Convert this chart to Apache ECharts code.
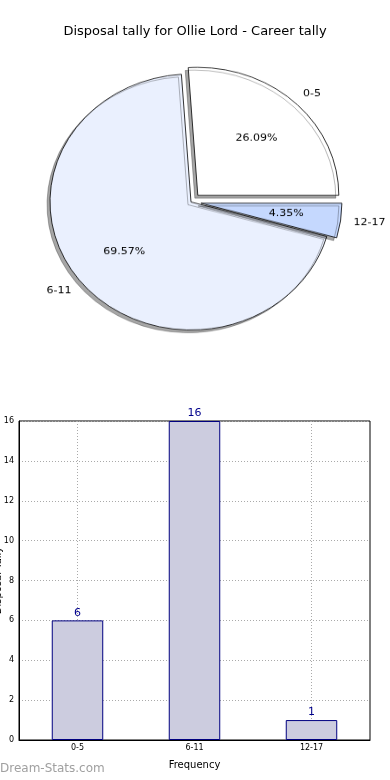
<!DOCTYPE html>
<html>
<head>
<meta charset="utf-8">
<script src="https://cdn.jsdelivr.net/npm/echarts@6/dist/echarts.min.js"></script>
<style>
  html, body { margin: 0; padding: 0; background: #fff; }
  #bar { position: absolute; left: 0; top: 0; width: 390px; height: 780px; }
  #pie { position: absolute; left: 0; top: 0; width: 390px; height: 420px;
         transform: scaleY(0.9078); transform-origin: 0 0; }
</style>
</head>
<body>
<div id="bar"></div>
<div id="pie"></div>
<script>
// ---- data ----
const titleText = 'Disposal tally for Ollie Lord - Career tally';
const categories = ['0-5', '6-11', '12-17'];
const values = [6, 16, 1];
const pieColors = ['#ffffff', '#eaf0fe', '#c5d8fe'];
const pieExploded = [true, false, true];
const yTicks = [0, 2, 4, 6, 8, 10, 12, 14, 16];

const FONT = 'DejaVu Sans';
const total = values.reduce((a, b) => a + b, 0);

// ---- bar chart + title (full page) ----
const bar = echarts.init(document.getElementById('bar'), null, { renderer: 'canvas' });
bar.setOption({
  animation: false,
  backgroundColor: 'transparent',
  textStyle: { fontFamily: FONT },
  title: {
    text: titleText, left: 'center', top: 20,
    textStyle: { fontFamily: FONT, fontSize: 13, fontWeight: 'normal', color: '#000' }
  },
  graphic: [{
    type: 'text', left: 0, top: 763,
    style: { text: 'Dream-Stats.com', fill: '#a0a0a0', font: '12px "DejaVu Sans"' }
  }],
  grid: { left: 19, top: 421, width: 351, height: 319, show: true,
          containLabel: false, outerBoundsMode: 'none',
          borderColor: '#000', borderWidth: 1, backgroundColor: 'transparent' },
  xAxis: {
    type: 'category', data: categories,
    name: 'Frequency', nameLocation: 'middle', nameGap: 20,
    nameTextStyle: { fontFamily: FONT, fontSize: 10, color: '#000' },
    axisLine: { lineStyle: { color: '#000', width: 1 } },
    axisTick: { show: false },
    axisLabel: { fontFamily: FONT, fontSize: 8, color: '#000', margin: 4 },
    splitLine: { show: true, alignWithLabel: true, lineStyle: { type: [1, 2], color: '#aaa', width: 1 } }
  },
  yAxis: {
    type: 'value', min: yTicks[0], max: yTicks[yTicks.length - 1], interval: 2,
    name: 'Disposal Tally', nameLocation: 'middle', nameGap: 16, nameRotate: 90,
    nameMoveOverlap: false,
    nameTextStyle: { fontFamily: FONT, fontSize: 10, color: '#000' },
    axisLine: { show: true, lineStyle: { color: '#000' } },
    axisTick: { show: false },
    axisLabel: { fontFamily: FONT, fontSize: 8, color: '#000', margin: 5 },
    splitLine: { show: true, lineStyle: { type: [1, 2], color: '#aaa', width: 1 } }
  },
  series: [{
    type: 'bar', data: values, barWidth: '44%',
    itemStyle: { color: '#ccccdf', borderColor: '#000080', borderWidth: 1 },
    label: { show: true, position: 'top', distance: 2, color: '#00008b',
             fontFamily: FONT, fontSize: 11 },
    emphasis: { disabled: true }, silent: true
  }]
});

// ---- pie (elliptical via vertical CSS scale) ----
const pie = echarts.init(document.getElementById('pie'), null, { renderer: 'canvas' });
const center = [191, 222.5];
const R = 141;
pie.setOption({
  animation: false,
  backgroundColor: 'transparent',
  series: [
    {
      type: 'pie', center: center, radius: R,
      startAngle: 0, clockwise: false,
      selectedMode: 'multiple', selectedOffset: 10,
      avoidLabelOverlap: false, silent: true,
      data: categories.map((c, i) => ({
        name: c, value: values[i], selected: pieExploded[i],
        itemStyle: { color: pieColors[i] }
      })),
      itemStyle: { borderColor: '#000', borderWidth: 0.8,
                   shadowColor: 'rgba(0,0,0,0.35)', shadowBlur: 0,
                   shadowOffsetX: -3, shadowOffsetY: 3 },
      label: { show: true, position: 'outside', formatter: '{b}',
               fontFamily: FONT, fontSize: 11, color: '#000', distanceToLabelLine: 0 },
      labelLine: { show: false, length: 13, length2: 0 },
      emphasis: { disabled: true },
      select: { itemStyle: { borderColor: '#000', borderWidth: 0.8 } }
    },
    {
      type: 'pie', center: center, radius: [78, 88],
      startAngle: 0, clockwise: false,
      selectedMode: 'multiple', selectedOffset: 10,
      avoidLabelOverlap: false, silent: true,
      data: categories.map((c, i) => ({ name: c, value: values[i], selected: pieExploded[i] })),
      itemStyle: { color: 'rgba(0,0,0,0)', borderWidth: 0 },
      label: { show: true, position: 'inside',
               formatter: p => (p.value / total * 100).toFixed(2) + '%',
               fontFamily: FONT, fontSize: 11, color: '#000' },
      labelLine: { show: false },
      emphasis: { disabled: true },
      select: { itemStyle: { color: 'rgba(0,0,0,0)', borderWidth: 0 } }
    }
  ]
});
</script>
</body>
</html>
